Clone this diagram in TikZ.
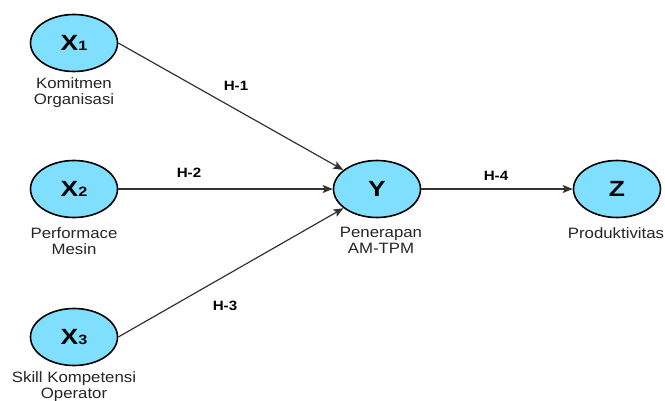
\documentclass[tikz,border=0pt]{standalone}
\usepackage{fontspec}
\setmainfont{Liberation Sans}
\usepackage{graphicx}
\usetikzlibrary{arrows.meta,shapes.geometric}
\definecolor{varfill}{RGB}{128,222,255}
\definecolor{pathline}{RGB}{51,51,51}
\newcommand{\wtxt}[1]{\scalebox{1.12}[1]{#1}}
\newcommand{\varname}[2]{\scalebox{1.2}[1]{\fontsize{22}{22}\selectfont\bfseries #1\raisebox{0pt}{\fontsize{13.5}{13.5}\selectfont #2}}}
\begin{document}
\begin{tikzpicture}[x=1pt,y=-1pt,
  latent/.style={ellipse, draw=black, line width=1.6pt, fill=varfill,
    minimum width=87pt, minimum height=57pt, inner sep=0pt},
  caption/.style={align=center, font=\fontsize{15}{16}\selectfont, text=black!85, inner sep=0pt},
  hyp/.style={font=\fontsize{13.5}{14}\selectfont\bfseries, inner sep=0pt},
  path/.style={draw=pathline, line width=1.2pt,
    -{Stealth[length=10pt,width=8pt,inset=2pt]}}]
\useasboundingbox (0,0) rectangle (665,401);
\fill[white] (0,0) rectangle (665,401);

% latent variables
\node[latent] (x1) at (74,43) {\varname{X}{1}};
\node[latent] (x2) at (74,189) {\varname{X}{2}};
\node[latent] (x3) at (74,337) {\varname{X}{3}};
\node[latent] (y)  at (377,189) {\varname{Y}{}};
\node[latent] (z)  at (617,189) {\varname{Z}{}};

% variable descriptions
\node[caption] (c1) at (74,93)  {\wtxt{Komitmen}\\\wtxt{Organisasi}};
\node[caption] (c2) at (74,241) {\wtxt{Performace}\\\wtxt{Mesin}};
\node[caption] (c3) at (74,387) {\wtxt{Skill Kompetensi}\\\wtxt{Operator}};
\node[caption] (cy) at (381,240) {\wtxt{Penerapan}\\\wtxt{AM-TPM}};
\node[caption] (cz) at (616,233) {\wtxt{Produktivitas}};

% hypothesised paths
\draw[path] (x1.east) -- (y);
\draw[path] (x2) -- (y);
\draw[path] (x3.east) -- (y);
\draw[path] (y) -- (z);

% path labels
\node[hyp] (h1) at (236,86)  {\wtxt{H-1}};
\node[hyp] (h2) at (189,173) {\wtxt{H-2}};
\node[hyp] (h3) at (225,306) {\wtxt{H-3}};
\node[hyp] (h4) at (496,176) {\wtxt{H-4}};
\end{tikzpicture}
\end{document}
